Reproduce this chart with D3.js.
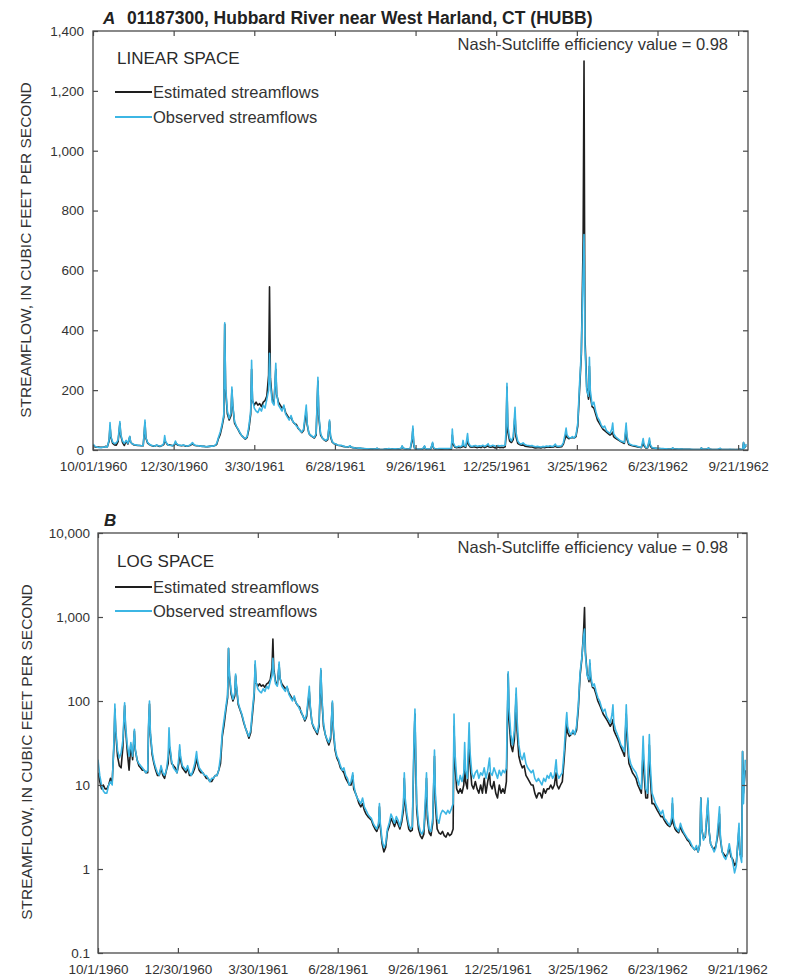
<!DOCTYPE html>
<html>
<head>
<meta charset="utf-8">
<script src="https://cdn.jsdelivr.net/npm/d3@7"></script>
<style>
  body { margin: 0; background: #fff; }
  svg text {
    font-family: "Liberation Sans", Arial, sans-serif;
    fill: #333;
  }
</style>
</head>
<body>
<svg id="chart" width="786" height="978"></svg>
<script>
// Daily streamflow record, water years 1961-1962, station 01187300 (HUBB)
const recordStart = "10/1/1960";
const recordEnd = "10/2/1962";

// day offsets from the start of the record
const dayOfRecord = [
  0,2,4,6,8,10,12,14,16,18,19,20,22,24,26,28,30,31,33,35,37,39,41,42,44,46,48,50,52,54,56,57,58,59,61,63,65,67,69,71,73,75,77,79,80,81,83,85,87,89,91,92,93,95,97,99,101,103,105,107,109,111,112,114,116,118,120,122,124,126,128,130,132,134,136,138,140,142,144,146,147,148,150,152,154,155,156,158,160,162,164,166,168,170,172,174,176,177,178,180,182,184,186,188,190,192,194,196,197,198,200,202,204,205,207,209,211,213,215,217,219,221,223,225,227,229,231,233,235,238,239,241,243,245,247,249,251,252,254,256,258,260,262,264,265,267,269,271,273,275,277,279,281,283,285,287,288,290,292,294,296,298,300,302,304,306,308,310,312,314,316,317,318,320,322,324,326,328,330,332,334,336,338,340,342,344,345,346,348,350,352,354,356,357,358,359,361,363,365,367,369,370,371,373,375,377,379,380,382,384,386,388,390,392,394,396,398,400,401,402,404,406,408,410,412,413,414,416,418,419,421,423,425,427,429,431,433,435,437,439,441,442,444,446,448,450,452,454,456,458,460,461,462,463,465,467,469,471,472,474,476,478,480,482,484,486,488,490,492,494,496,498,500,502,504,506,508,510,512,514,516,517,519,521,523,525,527,528,529,531,533,535,537,539,541,543,545,547,548,549,551,553,554,555,557,559,561,563,565,567,569,571,573,575,577,579,580,581,583,585,587,589,591,593,595,596,598,600,602,604,606,608,610,612,614,615,617,619,621,622,624,626,628,630,632,634,636,638,640,642,644,646,647,648,650,652,654,656,658,660,662,664,666,668,670,672,674,676,678,679,680,682,684,686,687,688,690,692,694,696,698,700,701,703,705,707,709,711,713,715,717,719,721,722,723,725,726,727,729
];

// observed streamflow, cubic feet per second
const observedFlow = [
  20,13,10,8.5,8,8,10,11,10,35,92,45,26,21,24,34,95,52,30,22,32,22,46,27,20,18,17,16,15,14,15,55,100,42,25,19,16,14,13,17,14,13,15,22,48,29,19,16,15,14,21,30,22,17,16,15,17,14,13,15,18,25,20,16,15,14,13,13,12,11,12,12,13,13,15,22,42,60,85,120,425,210,130,105,125,210,150,95,80,70,58,48,42,38,45,80,130,300,170,140,130,125,140,130,150,140,170,200,323,220,160,150,290,190,150,140,130,150,120,110,100,115,95,90,80,75,65,60,70,150,90,55,50,45,42,55,243,120,55,40,35,32,38,100,50,28,22,20,17,15,16,13,12,10,11,14,10,8,7,6.5,6,7,5.5,5,4.5,4.2,4,3.5,3.2,3,3.5,6,3.5,2.2,1.8,2,3,3.5,4.5,4,3.5,4.2,3.8,3.2,4,6,14,7,4.5,3.4,3,3.2,40,80,20,6,3.5,2.8,2.6,3,8,14,5,3,2.8,4,26,8,4,3.5,4.5,5,4.8,4.5,5,4.6,5.2,6,70,25,12,10,13,11,14,32,15,12,55,25,14,12,14,15,12,14,13,16,12,15,21,14,13,16,14,12,15,13,15,14,16,70,223,80,40,30,45,143,60,30,22,20,24,18,16,15,14,15,12,11,12,11,10,12,11,13,12,14,12,13,20,14,12,13,14,25,55,73,50,42,40,45,40,50,90,220,330,600,720,350,200,180,310,200,150,160,130,110,100,85,75,80,65,60,55,70,90,55,45,40,35,30,28,25,90,45,22,18,16,15,14,12,10,9,38,20,9,8,40,18,8,7,6,5.5,5,4.5,5,4,3.8,3.5,3.3,4,7,4,3.2,3,2.8,3.5,3,2.7,2.5,2.3,2.2,2,1.8,1.7,1.9,1.6,2,7,3,2.2,2.5,5,7,3,2,1.8,1.6,1.8,3,5.5,2.5,1.6,1.4,1.3,1.5,2,1.5,1.2,0.9,1.1,2.5,3.5,1.5,1.2,25,6,20
];

// estimated streamflow, cubic feet per second
const estimatedFlow = [
  14,11,9,10,9,9,10,12,11,30,80,42,22,17,16,28,88,48,25,15,30,20,44,26,20,17,16,15,15,14,14,48,92,40,23,18,15,13,13,16,13,12,15,18,30,27,18,17,16,14,18,26,20,16,15,14,16,13,13,14,16,21,18,15,14,14,13,12,12,11,11,12,13,13,15,18,38,52,78,110,420,200,120,100,115,200,145,90,78,68,56,48,42,36,42,70,120,270,165,150,160,150,155,145,160,165,180,250,545,240,170,155,270,185,160,150,140,145,125,115,105,110,95,88,85,72,66,58,65,130,85,55,48,44,40,50,230,110,50,40,34,30,35,95,45,26,21,19,16,15,14,12,11,10,10,13,9,8,7,6,5.5,6,5,4.5,4.2,4,3.8,3.3,3,2.8,3.2,5.5,3.2,2,1.6,1.8,2.8,3.2,4,3.6,3.2,3.8,3.4,3,3.6,5,12,6,4,3,2.8,2.9,30,70,16,5,3,2.5,2.3,2.6,6,12,4,2.7,2.5,3.5,22,6,3,2.7,2.6,2.8,2.5,2.4,2.7,2.5,2.6,3,50,18,9,8,9,8,10,20,11,9,35,18,10,9,11,9,8,10,8,12,8,11,14,10,9,11,8,7,10,8,9,8,11,45,210,60,30,25,35,120,45,22,18,16,17,13,12,11,10,10,8,7,8,8,7,9,8,9,9,10,9,10,14,10,9,10,11,20,40,55,42,38,40,42,40,45,80,200,320,700,1300,380,210,170,280,180,145,140,120,100,90,80,70,65,60,55,50,55,60,45,40,36,32,28,25,22,70,35,18,16,14,13,12,10,9,8,25,14,7,7,30,13,6,6,5.5,5,4.6,4.2,4.2,3.8,3.5,3.3,3.2,3.5,6,3.5,3,2.8,2.7,3.2,2.8,2.6,2.4,2.2,2.1,1.9,1.8,1.7,1.8,1.6,2,7,3,2.3,2.4,4.5,6.5,3,2,1.8,1.7,1.9,2.5,4.5,2.3,1.6,1.5,1.4,1.5,1.8,1.4,1.3,1.1,1.2,2.2,3,1.5,1.4,25,8,15
];

// axis tick labels
const linearTickDates = ["10/01/1960","12/30/1960","3/30/1961","6/28/1961","9/26/1961","12/25/1961","3/25/1962","6/23/1962","9/21/1962"];
const logTickDates = ["10/1/1960","12/30/1960","3/30/1961","6/28/1961","9/26/1961","12/25/1961","3/25/1962","6/23/1962","9/21/1962"];
const linearTicksY = [0, 200, 400, 600, 800, 1000, 1200, 1400];
const logTicksY = [0.1, 1, 10, 100, 1000, 10000];

const stationTitle = "01187300, Hubbard River near West Harland, CT (HUBB)";
const axisTitle = "STREAMFLOW, IN CUBIC FEET PER SECOND";
const seriesNames = ["Estimated streamflows", "Observed streamflows"];
const nseText = "Nash-Sutcliffe efficiency value = 0.98";

const parseDate = d3.timeParse("%m/%d/%Y");
const start = parseDate(recordStart);
const rows = dayOfRecord.map((d, i) => ({
  date: d3.timeDay.offset(start, d),
  obs: observedFlow[i],
  est: estimatedFlow[i]
}));

const colors = { est: "#1e1e1e", obs: "#3cb6e4", frame: "#4a4a4a" };

const svg = d3.select("#chart");

function drawPanel(cfg) {
  const { left, right, top, bottom } = cfg.box;
  const x = d3.scaleTime()
    .domain([start, parseDate(recordEnd)])
    .range([left, right]);
  const y = cfg.log
    ? d3.scaleLog().domain([0.1, 10000]).range([bottom, top])
    : d3.scaleLinear().domain([0, 1400]).range([bottom, top]);

  const g = svg.append("g");
  const clipId = "clip-" + cfg.key;
  svg.append("clipPath").attr("id", clipId)
    .append("rect").attr("x", left).attr("y", top)
    .attr("width", right - left).attr("height", bottom - top);

  const line = key => d3.line()
    .x(d => x(d.date))
    .y(d => y(d[key]));

  const plot = g.append("g").attr("clip-path", `url(#${clipId})`);
  plot.append("path").datum(rows)
    .attr("d", line("est")).attr("fill", "none")
    .attr("stroke", colors.est).attr("stroke-width", 1.6)
    .attr("stroke-linejoin", "round");
  plot.append("path").datum(rows)
    .attr("d", line("obs")).attr("fill", "none")
    .attr("stroke", colors.obs).attr("stroke-width", 1.6)
    .attr("stroke-linejoin", "round");

  const xTicks = cfg.tickDates.map(parseDate);

  // frame axes with inward ticks
  const axB = g.append("g").attr("transform", `translate(0,${bottom})`)
    .call(d3.axisBottom(x).tickValues(xTicks).tickSize(-5)
      .tickFormat((d, i) => cfg.tickDates[i]));
  axB.selectAll("text").attr("y", cfg.xLabelBaseline - bottom).attr("dy", 0)
    .style("font-size", "13.5px");
  const axT = g.append("g").attr("transform", `translate(0,${top})`)
    .call(d3.axisTop(x).tickValues(xTicks).tickSize(-5).tickFormat(""));
  const axL = g.append("g").attr("transform", `translate(${left},0)`)
    .call(d3.axisLeft(y).tickValues(cfg.log ? logTicksY : linearTicksY)
      .tickSize(-5).tickPadding(cfg.yLabelPad).tickFormat(d3.format(",")));
  axL.selectAll("text").style("font-size", "13.5px");
  const axR = g.append("g").attr("transform", `translate(${right},0)`)
    .call(d3.axisRight(y).tickValues(cfg.log ? logTicksY : linearTicksY)
      .tickSize(-5).tickFormat(""));
  [axB, axT, axL, axR].forEach(a => {
    a.select(".domain").remove();
    a.selectAll("line").attr("stroke", colors.frame).attr("stroke-width", 1.2);
  });
  g.append("rect").attr("x", left).attr("y", top)
    .attr("width", right - left).attr("height", bottom - top)
    .attr("fill", "none").attr("stroke", colors.frame).attr("stroke-width", 1.3);

  // panel letter and station title
  g.append("text").attr("x", cfg.letterX).attr("y", cfg.letterY)
    .style("font-size", "17px").style("font-weight", "bold").style("font-style", "italic")
    .style("fill", "#222").text(cfg.letter);
  if (cfg.title) {
    g.append("text").attr("x", 127).attr("y", cfg.letterY)
      .style("font-size", "17.5px").style("font-weight", "bold")
      .style("fill", "#222").text(cfg.title);
  }

  // space label
  g.append("text").attr("x", 117).attr("y", cfg.spaceY)
    .style("font-size", "17px").style("fill", "#2a2a2a").text(cfg.space);

  // efficiency note
  g.append("text").attr("x", 728).attr("y", cfg.nseY)
    .attr("text-anchor", "end").style("font-size", "16.5px").text(nseText);

  // legend
  const legend = [
    { name: seriesNames[0], color: colors.est },
    { name: seriesNames[1], color: colors.obs }
  ];
  legend.forEach((item, i) => {
    const ly = cfg.legendY + i * cfg.legendGap;
    g.append("line").attr("x1", 115).attr("x2", 152)
      .attr("y1", ly).attr("y2", ly)
      .attr("stroke", item.color).attr("stroke-width", 1.8);
    g.append("text").attr("x", 153).attr("y", ly + 6)
      .style("font-size", "16.5px").text(item.name);
  });

  // y axis title
  g.append("text")
    .attr("transform", `translate(${cfg.yTitleX},${cfg.yTitleY}) rotate(-90)`)
    .attr("text-anchor", "middle").style("font-size", "15.5px")
    .style("fill", "#333").text(axisTitle);
}

drawPanel({
  key: "a", log: false, letter: "A", title: stationTitle,
  box: { left: 93, right: 748, top: 31, bottom: 450 },
  tickDates: linearTickDates, xLabelBaseline: 471, yLabelPad: 9,
  letterX: 103, letterY: 24, space: "LINEAR SPACE", spaceY: 64,
  nseY: 50, legendY: 92, legendGap: 25, yTitleX: 31, yTitleY: 250
});

drawPanel({
  key: "b", log: true, letter: "B", title: null,
  box: { left: 98, right: 747, top: 533, bottom: 953 },
  tickDates: logTickDates, xLabelBaseline: 974, yLabelPad: 8,
  letterX: 104, letterY: 526, space: "LOG SPACE", spaceY: 567,
  nseY: 553, legendY: 587, legendGap: 24, yTitleX: 32, yTitleY: 752
});
</script>
</body>
</html>
